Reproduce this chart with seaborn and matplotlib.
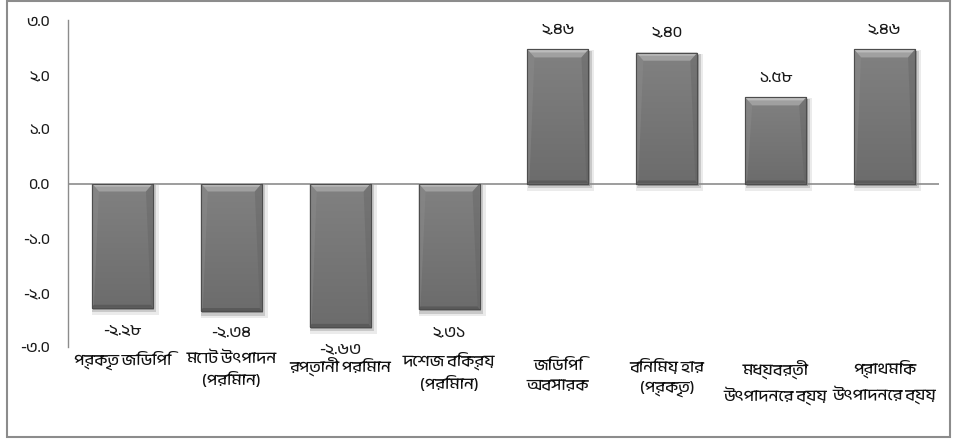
import numpy as np
import pandas as pd
import seaborn as sns
import matplotlib
matplotlib.use("Agg")
import matplotlib.pyplot as plt
from matplotlib import font_manager as fm
from matplotlib.patches import Rectangle, Polygon
from matplotlib.transforms import IdentityTransform, blended_transform_factory, offset_copy
from matplotlib.colors import LinearSegmentedColormap

# ---- data ----
categories = [
    "প্রকৃত জিডিপি",
    "মোট উৎপাদন\n(পরিমান)",
    "রপ্তানী পরিমান",
    "দেশজ বিক্রয়\n(পরিমান)",
    "জিডিপি\nঅবসারক",
    "বিনিময় হার\n(প্রকৃত)",
    "মধ্যবর্তী\nউৎপাদনের ব্যয়",
    "প্রাথমিক\nউৎপাদনের ব্যয়",
]
values = [-2.28, -2.34, -2.63, -2.31, 2.46, 2.40, 1.58, 2.46]
value_labels = ["-২.২৮", "-২.৩৪", "-২.৬৩", "২.৩১", "২.৪৬", "২.৪০", "১.৫৮", "২.৪৬"]
ytick_values = [-3, -2, -1, 0, 1, 2, 3]
ytick_labels = ["-৩.০", "-২.০", "-১.০", "০.০", "১.০", "২.০", "৩.০"]


def bengali_family():
    keys = ("Bengali", "Bangla", "Lohit", "Vrinda", "Kalpurush", "SolaimanLipi", "Siyam")
    for f in fm.fontManager.ttflist:
        if any(k.lower() in f.name.lower() for k in keys):
            return f.name
    return None


sns.set_theme(style="white")
bn = bengali_family()
families = ([bn] if bn else []) + ["Noto Sans", "DejaVu Sans"]
plt.rcParams["font.family"] = families

W, H, DPI = 955, 441, 100
fig = plt.figure(figsize=(W / DPI, H / DPI), dpi=DPI)
ax = fig.add_axes([68 / W, 1 - 347 / H, (939 - 68) / W, (347 - 20) / H])

df = pd.DataFrame({"category": categories, "value": values})
sns.barplot(data=df, x="category", y="value", color="#767676", width=0.56,
            edgecolor="#4a4a4a", linewidth=0.8, ax=ax, zorder=3)

ax.set_xlim(-0.5, len(categories) - 0.5)
ax.set_ylim(-3, 3)
fig.canvas.draw()

body_cmap = LinearSegmentedColormap.from_list("body", ["#818181", "#6c6c6c"])
to_px = ax.transData.transform
ident = IdentityTransform()

for p in list(ax.patches):
    x0, w = p.get_x(), p.get_width()
    y0, h = p.get_y(), p.get_height()
    lo, hi = min(y0, y0 + h), max(y0, y0 + h)
    (px0, py_lo), (px1, py_hi) = to_px((x0, lo)), to_px((x0 + w, hi))

    # soft drop shadow
    for off, a, grow in [((3, -4), 0.08, 3), ((2, -3), 0.14, 1.5), ((1.5, -2), 0.22, 0)]:
        ax.add_patch(Rectangle((px0 + off[0] - grow, py_lo + off[1] - grow),
                               px1 - px0 + 2 * grow, py_hi - py_lo + 2 * grow,
                               transform=ident, facecolor="black",
                               edgecolor="none", alpha=a, zorder=2))

    # vertical gradient body clipped to the bar
    grad = np.linspace(0, 1, 200).reshape(-1, 1)
    im = ax.imshow(grad, cmap=body_cmap, extent=(x0, x0 + w, lo, hi),
                   aspect="auto", origin="upper", zorder=3.1, interpolation="bilinear")
    im.set_clip_path(p)

    # bevels: light top, faint sides, dark bottom
    bev, ins = 8, 7
    ax.add_patch(Polygon([(px0, py_hi), (px1, py_hi), (px1 - ins, py_hi - bev), (px0 + ins, py_hi - bev)],
                         closed=True, transform=ident, facecolor="#a0a0a0",
                         edgecolor="none", zorder=3.2))
    ax.add_patch(Polygon([(px0, py_hi), (px1, py_hi), (px1 - 3, py_hi - 3), (px0 + 3, py_hi - 3)],
                         closed=True, transform=ident, facecolor="#bcbcbc",
                         edgecolor="none", zorder=3.25))
    ax.add_patch(Polygon([(px0, py_hi), (px0 + ins, py_hi - bev), (px0 + 2, py_lo + 3), (px0, py_lo)],
                         closed=True, transform=ident, facecolor="#8c8c8c",
                         edgecolor="none", alpha=0.45, zorder=3.2))
    ax.add_patch(Polygon([(px1, py_hi), (px1 - ins, py_hi - bev), (px1 - 2, py_lo + 3), (px1, py_lo)],
                         closed=True, transform=ident, facecolor="#5e5e5e",
                         edgecolor="none", alpha=0.35, zorder=3.2))
    ax.add_patch(Polygon([(px0, py_lo), (px1, py_lo), (px1 - 2, py_lo + 3), (px0 + 2, py_lo + 3)],
                         closed=True, transform=ident, facecolor="#5a5a5a",
                         edgecolor="none", zorder=3.2))
    ax.add_patch(Rectangle((px0, py_lo), px1 - px0, py_hi - py_lo, transform=ident,
                           fill=False, edgecolor="#4d4d4d", linewidth=0.8, zorder=3.3))

ax.set_xlim(-0.5, len(categories) - 0.5)
ax.set_ylim(-3, 3)

# value labels
for i, (v, lab) in enumerate(zip(values, value_labels)):
    up = v >= 0
    ax.annotate(lab, (i, v), xytext=(0, 9 if up else -11), textcoords="offset points",
                ha="center", va="bottom" if up else "top", fontsize=11.5,
                fontweight="bold", color="#1a1a1a")

# axes styling
for s in ["top", "right", "bottom"]:
    ax.spines[s].set_visible(False)
ax.spines["left"].set_color("#8c8c8c")
ax.spines["left"].set_linewidth(1.0)
ax.axhline(0, color="#8c8c8c", linewidth=1.2, zorder=2.5)
ax.set_yticks(ytick_values)
ax.set_yticklabels(ytick_labels, fontsize=11, fontweight="bold", color="#1a1a1a")
ax.tick_params(axis="y", length=0, pad=13)
ax.set_xticks(range(len(categories)))
ax.set_xticklabels([])
ax.tick_params(axis="x", length=0)
ax.set_xlabel("")
ax.set_ylabel("")
ax.grid(False)

# category names under the axis
base = blended_transform_factory(ax.transData, ax.transAxes)
drops = [4, 4, 9, 4, 12, 12, 12, 12]
for i, (c, d) in enumerate(zip(categories, drops)):
    ax.text(i, 0, c, transform=offset_copy(base, fig=fig, x=0, y=-d, units="dots"),
            ha="center", va="top", fontsize=11.5, color="#111111", linespacing=1.5)

# outer frame
fig.patches.append(Rectangle((7 / W, 4 / H), (950 - 7) / W, (440 - 4) / H, transform=fig.transFigure,
                             fill=False, edgecolor="#8c8c8c", linewidth=1.5))

fig.savefig("out.png", dpi=DPI)
